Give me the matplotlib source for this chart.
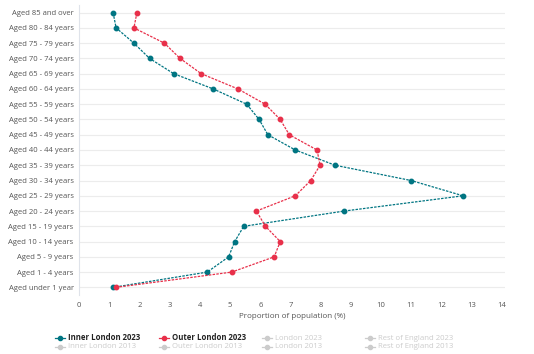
import numpy as np
import matplotlib.pyplot as plt
from matplotlib.lines import Line2D

plt.rcParams['font.family'] = ['Open Sans', 'DejaVu Sans']

# age bands, top to bottom as in the chart
ages = ["Aged 85 and over", "Aged 80 - 84 years", "Aged 75 - 79 years",
        "Aged 70 - 74 years", "Aged 65 - 69 years", "Aged 60 - 64 years",
        "Aged 55 - 59 years", "Aged 50 - 54 years", "Aged 45 - 49 years",
        "Aged 40 - 44 years", "Aged 35 - 39 years", "Aged 30 - 34 years",
        "Aged 25 - 29 years", "Aged 20 - 24 years", "Aged 15 - 19 years",
        "Aged 10 - 14 years", "Aged 5 - 9 years", "Aged 1 - 4 years",
        "Aged under 1 year"]

inner_2023 = [1.12, 1.22, 1.81, 2.33, 3.13, 4.44, 5.55, 5.96, 6.25, 7.16,
              8.48, 11.0, 12.72, 8.78, 5.45, 5.15, 4.95, 4.24, 1.12]
outer_2023 = [1.91, 1.81, 2.82, 3.34, 4.04, 5.26, 6.16, 6.66, 6.96, 7.88,
              7.98, 7.67, 7.16, 5.87, 6.17, 6.66, 6.46, 5.05, 1.21]

xticks = list(range(0, 15))

teal = '#007582'
red = '#E8304A'

fig = plt.figure(figsize=(5.34, 3.54), dpi=100)
ax = fig.add_axes([79.3/534, 59/354, (505-79.3)/534, 290/354])

y = np.arange(len(ages))
ax.plot(inner_2023, y, color=teal, ls=(0, (2, 1)), lw=0.9, marker='o', ms=3.2, zorder=3)
ax.plot(outer_2023, y, color=red, ls=(0, (2, 1)), lw=0.9, marker='o', ms=3.2, zorder=3)

ax.set_ylim(len(ages) - 0.5, -0.5)
ax.set_xlim(0, 14.11)
ax.set_yticks(y)
ax.set_yticklabels(ages, fontsize=5.5, color='#555555')
ax.set_xticks(xticks)
ax.set_xticklabels([str(t) for t in xticks], fontsize=5.5, color='#555555')
ax.tick_params(length=0, pad=4)
ax.tick_params(axis='x', pad=5)
for yy in y:
    ax.axhline(yy, color='#ececec', lw=0.8, zorder=0)
for s in ['top', 'right', 'bottom']:
    ax.spines[s].set_visible(False)
ax.spines['left'].set_color('#dfe3ea')
ax.spines['left'].set_linewidth(0.8)
ax.set_xlabel("Proportion of population (%)", fontsize=5.8, color='#555555', labelpad=3)

# legend, drawn by hand in figure pixels
legend_items = [
    ("Inner London 2023", teal, True, 60, 338),
    ("Outer London 2023", red, True, 164, 338),
    ("London 2023", '#cccccc', False, 267, 338),
    ("Rest of England 2023", '#cccccc', False, 370, 338),
    ("Inner London 2013", '#cccccc', False, 60, 347),
    ("Outer London 2013", '#cccccc', False, 164, 347),
    ("London 2013", '#cccccc', False, 267, 347),
    ("Rest of England 2013", '#cccccc', False, 370, 347),
]
for label, col, active, px, py in legend_items:
    fy = 1 - py / 354
    fig.add_artist(Line2D([(px - 5) / 534, (px + 5) / 534], [fy, fy], color=col, lw=0.9))
    fig.add_artist(Line2D([px / 534], [fy], color=col, marker='o', ms=3, lw=0))
    fig.text((px + 8) / 534, fy, label, fontsize=5.6, va='center', ha='left',
             color='#222222' if active else '#cccccc',
             fontweight='bold' if active else 'normal')

fig.savefig('out.png', dpi=100)
